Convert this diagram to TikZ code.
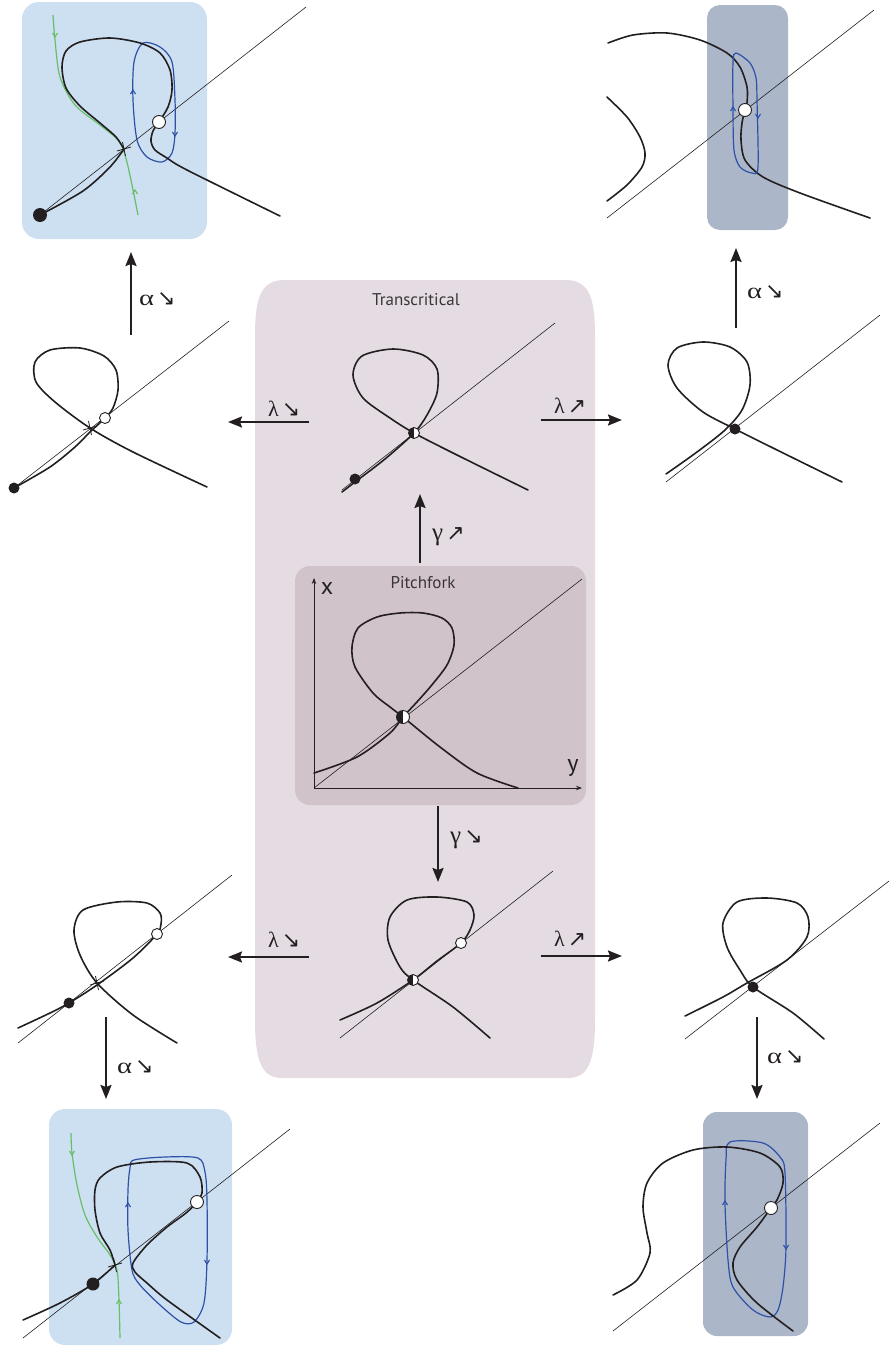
\RequirePackage{fix-cm}
\documentclass[tikz,border=0pt]{standalone}
\usepackage{fontspec}
\usepackage{graphicx}
\newfontfamily\grk{Liberation Serif}
\newfontfamily\myr{PT Sans}
\newfontfamily\symf{DejaVu Sans}
\usetikzlibrary{arrows.meta}
\definecolor{pinkbg}{RGB}{228,220,226}
\definecolor{pitchbg}{RGB}{209,195,202}
\definecolor{bluebg}{RGB}{205,224,241}
\definecolor{darkbg}{RGB}{171,182,201}
\definecolor{loopblue}{RGB}{46,80,168}
\definecolor{mangreen}{RGB}{104,190,104}
\definecolor{ink}{RGB}{35,31,32}
\tikzset{
  nullc/.style={line width=1.6pt, draw=ink, line join=round, line cap=round},
  diag/.style={line width=0.6pt, draw=ink},
  orbit/.style={line width=1.2pt, draw=loopblue},
  manif/.style={line width=1.2pt, draw=mangreen},
  bigarrow/.style={line width=2.2pt, draw=ink, -{Stealth[length=14pt,width=11pt,inset=2pt]}},
  axarrow/.style={line width=0.8pt, draw=ink, -{Stealth[length=6pt,width=4.5pt]}},
  lbl/.style={anchor=base west, inner sep=0pt, text=ink, font=\grk\fontsize{19}{20}\selectfont},
  fixb/.style={circle, fill=ink, inner sep=0pt, minimum size=#1},
  fixw/.style={circle, draw=ink, fill=white, line width=0.9pt, inner sep=0pt, minimum size=#1},
  fixh/.style={circle, draw=ink, fill=white, line width=0.9pt, inner sep=0pt, minimum size=#1,
    path picture={\fill[ink] (path picture bounding box.south west) rectangle (path picture bounding box.north);}},
  ttl/.style={font=\myr\fontsize{17}{18}\selectfont, text=ink!90},
  axl/.style={font=\myr\fontsize{24}{24}\selectfont, text=ink, inner sep=0pt},
}
\newcommand\chevU[3]{\draw[#3, line width=1.1pt, line join=miter] (#1-2.5,#2+4) -- (#1,#2) -- (#1+2.5,#2+4);}
\newcommand\chevD[3]{\draw[#3, line width=1.1pt, line join=miter] (#1-2.5,#2-4) -- (#1,#2) -- (#1+2.5,#2-4);}
\newcommand\saddlemk[2]{\draw[ink, line width=0.8pt] (#1-7,#2+2) -- (#1+7,#2-2) (#1-1.5,#2-7) -- (#1+1.5,#2+7);}
\newcommand\galpha{\scalebox{1.3}[1]{\fontsize{22}{22}\selectfont α}}
\newcommand\glambda{{\fontsize{22}{22}\selectfont λ}}
\newcommand\ggamma{{\fontsize{25}{25}\selectfont γ}}
\newcommand\dn{\hspace{3pt}{\symf\fontsize{22}{22}\selectfont ↘}}
\newcommand\up{\hspace{3pt}{\symf\fontsize{22}{22}\selectfont ↗}}
\begin{document}
\begin{tikzpicture}[x=1pt,y=-1pt]
\useasboundingbox (0,0) rectangle (889,1347);

% ---------- background panels ----------
\fill[pinkbg] (255,335) .. controls (255,295) and (262,280) .. (285,280) -- (565,280)
  .. controls (588,280) and (595,295) .. (595,335) -- (595,1020)
  .. controls (595,1062) and (588,1078) .. (568,1078) -- (282,1078)
  .. controls (262,1078) and (255,1062) .. (255,1020) -- cycle;
\fill[pitchbg, rounded corners=15pt] (295,566) rectangle (586,805);
\fill[bluebg, rounded corners=17pt] (22,2) rectangle (207,239);
\fill[darkbg, rounded corners=13pt] (707,5) rectangle (788,230);
\fill[bluebg, rounded corners=16pt] (49,1109) rectangle (232,1345);
\fill[darkbg, rounded corners=14pt] (703,1112) rectangle (808,1336);

% ---------- top-left panel ----------
\draw[diag] (40,215) -- (306,7);
\draw[manif] plot[smooth] coordinates {(53,15) (55,40) (60,77) (75,105) (100,125) (118,140) (125,155) (131,180) (138,215)};
\chevD{55}{37}{mangreen}
\chevU{135}{190}{mangreen}
\draw[orbit] plot[smooth cycle] coordinates {(143,43) (160,47) (172,62) (175,100) (175,133) (172,153) (162,162) (147,157) (137,140) (133,100) (134,62)};
\chevU{133}{90}{loopblue}
\chevD{175}{136}{loopblue}
\draw[nullc] plot[smooth] coordinates {(40,215) (83,191) (110,167) (124,149)};
\draw[nullc] plot[smooth] coordinates {(124,149) (116,137) (100,123) (80,106) (66,88) (62,67) (66,51) (80,42) (110,38) (140,43) (160,53) (170,70) (172,90) (168,107) (159,122) (153,131) (151,141) (155,150) (167,158) (187,170) (280,216)};
\saddlemk{124}{149}
\node[fixb=14pt] (tlS) at (40,215) {};
\node[fixw=13pt] (tlU) at (159,122) {};

% ---------- top-right panel ----------
\draw[diag] (607,218) -- (874,10);
\draw[nullc] plot[smooth] coordinates {(607,97) (627,117) (640,137) (645,153) (642,167) (627,185) (607,201)};
\draw[nullc] plot[smooth] coordinates {(608,43) (633,35) (667,33) (700,40) (727,53) (740,67) (747,87) (747,103) (745,110) (742,123) (741,140) (745,160) (763,177) (800,193) (870,218)};
\draw[orbit] plot[smooth cycle] coordinates {(736,53) (750,63) (756,78) (757,100) (758,167) (752,173) (740,167) (734,150) (733,110) (733,62)};
\chevU{733}{107}{loopblue}
\chevD{758}{118}{loopblue}
\node[fixw=13pt] (trU) at (745,110) {};

% ---------- middle-left ----------
\draw[diag] (14,488) -- (229,321);
\draw[nullc] plot[smooth] coordinates {(14,488) (50,467) (75,447) (90,432) (105,418) (113,408) (118,390) (116,370) (104,356) (80,348) (50,350) (35,362) (36,382) (55,402) (90,428) (133,452) (207,487)};
\saddlemk{90}{428}
\node[fixb=11pt] (mlS) at (14,488) {};
\node[fixw=11pt] (mlU) at (105,418) {};

% ---------- middle-right ----------
\draw[diag] (666,482) -- (880,315);
\draw[nullc] plot[smooth] coordinates {(666,474) (697,452) (725,430) (742,410) (750,385) (747,362) (730,347) (703,342) (677,348) (668,365) (677,388) (703,412) (735,429) (773,448) (842,482)};
\node[fixb=11pt] (mrS) at (735,429) {};

% ---------- centre top (transcritical) ----------
\node[ttl] (ttlT) at (416,300) {Transcritical};
\draw[diag] (342,490) -- (555,323);
\draw[nullc] plot[smooth] coordinates {(342,492) (355,482) (385,459) (414,433) (427,415) (437,393) (437,369) (423,355) (393,349) (362,356) (353,375) (363,398) (390,418) (414,433) (457,455) (528,490)};
\node[fixb=11pt] (ctS) at (355,479) {};
\node[fixh=11pt] (ctH) at (414,433) {};

% ---------- pitchfork ----------
\node[ttl] (ttlP) at (423,583) {Pitchfork};
\coordinate (orig) at (314,788);
\coordinate (xtop) at (314,578);
\coordinate (yend) at (582,788);
\draw[axarrow] (orig) -- (xtop);
\draw[axarrow] (orig) -- (yend);
\node[axl] (labx) at (327,588) {x};
\node[axl] (laby) at (573,768) {y};
\draw[diag] (314,788) -- (582,579);
\draw[nullc] plot[smooth] coordinates {(314,773) (357,757) (390,733) (403,717) (416,703) (431,686) (447,665) (454,645) (452,628) (442,618) (423,613) (400,613) (377,617) (358,628) (352,647) (355,667) (373,693) (390,707) (403,717) (440,747) (477,773) (518,788)};
\node[fixh=13pt] (pfH) at (403,717) {};

% ---------- centre bottom ----------
\draw[diag] (340,1038) -- (553,871);
\draw[nullc] plot[smooth] coordinates {(340,1020) (377,1003) (413,980) (437,961) (461,943) (470,930) (474,915) (467,902) (437,897) (407,900) (390,917) (388,940) (400,967) (413,980) (453,1007) (490,1038)};
\node[fixh=11pt] (cbH) at (413,980) {};
\node[fixw=11pt] (cbU) at (461,943) {};

% ---------- bottom-left ----------
\draw[diag] (18,1043) -- (232,875);
\draw[nullc] plot[smooth] coordinates {(18,1028) (50,1013) (69,1003) (97,985) (133,958) (157,934) (161,924) (160,913) (147,903) (117,902) (83,910) (74,930) (80,955) (97,983) (133,1015) (177,1043)};
\saddlemk{97}{983}
\node[fixb=11pt] (blS) at (69,1003) {};
\node[fixw=11pt] (blU) at (157,934) {};

% ---------- bottom-right ----------
\draw[diag] (685,1039) -- (889,881);
\draw[nullc] plot[smooth] coordinates {(685,1016) (723,997) (747,983) (787,960) (807,937) (808,917) (797,903) (767,898) (737,902) (723,923) (727,947) (740,970) (753,987) (793,1013) (824,1039)};
\node[fixb=11pt] (brS) at (753,987) {};

% ---------- bottom-left panel ----------
\draw[diag] (23,1338) -- (290,1129);
\draw[manif] plot[smooth] coordinates {(71,1133) (72,1153) (77,1185) (85,1215) (97,1237) (110,1255) (117,1270) (119,1300) (120,1338)};
\chevD{72}{1155}{mangreen}
\chevU{119}{1300}{mangreen}
\draw[orbit] plot[smooth cycle] coordinates {(134,1160) (165,1157) (198,1158) (205,1172) (207,1200) (207,1260) (204,1303) (194,1322) (181,1322) (160,1305) (140,1285) (132,1270) (128,1230) (128,1190) (130,1168)};
\chevU{128}{1203}{loopblue}
\chevD{207}{1264}{loopblue}
\draw[nullc] plot[smooth] coordinates {(23,1320) (60,1303) (93,1284) (115,1265)};
\draw[nullc] plot[smooth] coordinates {(115,1265) (110,1250) (100,1233) (95,1210) (95,1190) (100,1178) (117,1167) (150,1162) (187,1163) (200,1177) (202,1193) (197,1202) (186,1213) (167,1227) (147,1245) (133,1263) (135,1272) (147,1283) (167,1300) (220,1338)};
\saddlemk{115}{1265}
\node[fixb=13pt] (bpS) at (93,1284) {};
\node[fixw=13pt] (bpU) at (197,1202) {};

% ---------- bottom-right panel ----------
\draw[diag] (613,1331) -- (880,1123);
\draw[orbit] plot[smooth cycle] coordinates {(730,1142) (763,1143) (780,1157) (785,1173) (786,1247) (783,1287) (778,1310) (770,1317) (753,1310) (733,1287) (728,1260) (725,1203) (726,1160)};
\chevU{725}{1201}{loopblue}
\chevD{786}{1249}{loopblue}
\draw[nullc] plot[smooth] coordinates {(613,1295) (637,1280) (650,1253) (647,1233) (643,1207) (647,1183) (663,1163) (693,1150) (727,1147) (760,1153) (780,1167) (783,1183) (777,1200) (771,1208) (757,1227) (740,1247) (733,1263) (737,1280) (757,1303) (793,1331)};
\node[fixw=13pt] (bqU) at (771,1208) {};

% ---------- transition arrows ----------
\coordinate (a1s) at (131,335); \coordinate (a1e) at (131,252);
\coordinate (a2s) at (736,328); \coordinate (a2e) at (736,248);
\coordinate (a3s) at (309,422); \coordinate (a3e) at (228,422);
\coordinate (a4s) at (541,420); \coordinate (a4e) at (622,420);
\coordinate (a5s) at (420,563); \coordinate (a5e) at (420,494);
\coordinate (a6s) at (438,806); \coordinate (a6e) at (438,882);
\coordinate (a7s) at (309,957); \coordinate (a7e) at (228,957);
\coordinate (a8s) at (541,956); \coordinate (a8e) at (622,956);
\coordinate (a9s) at (106,1017); \coordinate (a9e) at (106,1099);
\coordinate (a10s) at (757,1017); \coordinate (a10e) at (757,1099);
\foreach \k in {1,...,10} {\draw[bigarrow] (a\k s) -- (a\k e);}

\node[lbl] (l1) at (139,305) {\galpha\dn};
\node[lbl] (l2) at (747,298) {\galpha\dn};
\node[lbl] (l3) at (268,416) {\glambda\dn};
\node[lbl] (l4) at (554,413) {\glambda\up};
\node[lbl] (l5) at (432,540) {\ggamma\up};
\node[lbl] (l6) at (450,843) {\ggamma\dn};
\node[lbl] (l7) at (268,947) {\glambda\dn};
\node[lbl] (l8) at (554,946) {\glambda\up};
\node[lbl] (l9) at (117,1073) {\galpha\dn};
\node[lbl] (l10) at (767,1063) {\galpha\dn};
\end{tikzpicture}
\end{document}
